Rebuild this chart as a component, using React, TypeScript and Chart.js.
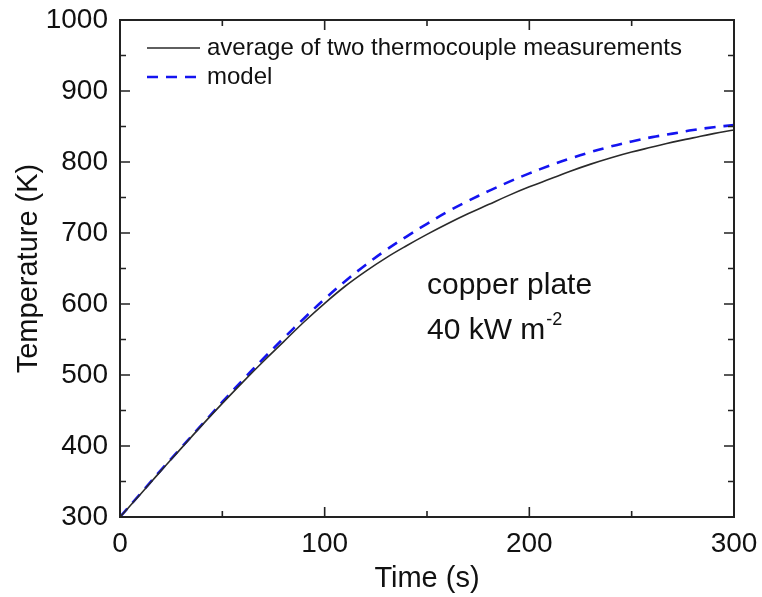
import React, { useEffect, useRef } from 'react';
import { Chart, registerables } from 'chart.js';

Chart.register(...registerables);

// ---- data ----
const TIME = [0, 10, 20, 30, 40, 50, 60, 70, 80, 90, 100, 110, 120, 130, 140, 150, 160, 170, 180, 190, 200, 210, 220, 230, 240, 250, 260, 270, 280, 290, 300];
const MEASURED = [300, 332, 365, 397, 429, 460, 490, 519, 547, 575, 601, 625, 646, 665, 682, 698, 713, 727, 740, 753, 765, 776, 787, 797, 806, 814, 821, 828, 834, 840, 845];
const MODEL = [300, 333, 366, 398, 430, 462, 493, 523, 552, 580, 607, 632, 655, 676, 695, 713, 730, 745, 759, 772, 784, 795, 805, 814, 822, 829, 835, 840, 845, 849, 852];
const X_TICKS = [0, 100, 200, 300];
const Y_TICKS = [300, 400, 500, 600, 700, 800, 900, 1000];
const LABEL_MEASURED = 'average of two thermocouple measurements';
const LABEL_MODEL = 'model';
const X_TITLE = 'Time (s)';
const Y_TITLE = 'Temperature (K)';
const NOTE_LINE1 = 'copper plate';
const NOTE_LINE2 = '40 kW m';
const NOTE_SUP = '-2';
const NOTE_AT_TIME = 150;
const NOTE_AT_TEMP = [614, 551];

const FONT = "'Liberation Sans', Arial, Helvetica, sans-serif";

const framePlugin = {
  id: 'frameTicks',
  afterDatasetsDraw(chart: any) {
    const { ctx, chartArea: a, scales } = chart;
    const xs = scales.x;
    const ys = scales.y;
    ctx.save();
    ctx.strokeStyle = '#222';
    ctx.lineWidth = 2;
    ctx.strokeRect(a.left, a.top, a.right - a.left, a.bottom - a.top);
    ctx.lineWidth = 1.6;
    for (let v = xs.min; v <= xs.max + 1e-9; v += 50) {
      const len = v % 100 === 0 ? 10 : 6;
      const px = xs.getPixelForValue(v);
      ctx.beginPath();
      ctx.moveTo(px, a.bottom);
      ctx.lineTo(px, a.bottom - len);
      ctx.moveTo(px, a.top);
      ctx.lineTo(px, a.top + len);
      ctx.stroke();
    }
    for (let v = ys.min; v <= ys.max + 1e-9; v += 50) {
      const len = v % 100 === 0 ? 10 : 6;
      const py = ys.getPixelForValue(v);
      ctx.beginPath();
      ctx.moveTo(a.left, py);
      ctx.lineTo(a.left + len, py);
      ctx.moveTo(a.right, py);
      ctx.lineTo(a.right - len, py);
      ctx.stroke();
    }

    // legend
    const ds = chart.data.datasets;
    const lx0 = a.left + 27;
    const lx1 = a.left + 80;
    const tx = a.left + 87;
    const rows = [a.top + 28, a.top + 57];
    ctx.font = `24px ${FONT}`;
    ctx.textBaseline = 'middle';
    ctx.textAlign = 'left';
    ds.forEach((d: any, i: number) => {
      const y = rows[i];
      ctx.beginPath();
      ctx.strokeStyle = d.borderColor;
      ctx.lineWidth = d.borderWidth;
      ctx.setLineDash(d.borderDash || []);
      ctx.moveTo(lx0, y);
      ctx.lineTo(lx1, y);
      ctx.stroke();
      ctx.setLineDash([]);
      ctx.fillStyle = '#111';
      ctx.fillText(d.label, tx, y);
    });

    // annotation
    const nx = xs.getPixelForValue(NOTE_AT_TIME);
    const ny1 = ys.getPixelForValue(NOTE_AT_TEMP[0]);
    const ny2 = ys.getPixelForValue(NOTE_AT_TEMP[1]);
    ctx.fillStyle = '#111';
    ctx.textBaseline = 'alphabetic';
    ctx.font = `30px ${FONT}`;
    ctx.fillText(NOTE_LINE1, nx, ny1);
    ctx.fillText(NOTE_LINE2, nx, ny2);
    const w = ctx.measureText(NOTE_LINE2).width;
    ctx.font = `18px ${FONT}`;
    ctx.fillText(NOTE_SUP, nx + w + 1, ny2 - 14);
    ctx.restore();
  },
};

export default function App() {
  const ref = useRef<HTMLCanvasElement | null>(null);
  useEffect(() => {
    const canvas = ref.current;
    if (!canvas) return;
    const chart = new Chart(canvas, {
      type: 'line',
      data: {
        datasets: [
          {
            label: LABEL_MEASURED,
            data: TIME.map((t, i) => ({ x: t, y: MEASURED[i] })),
            borderColor: '#2a2a2a',
            borderWidth: 1.6,
            pointRadius: 0,
            tension: 0.4,
            fill: false,
          },
          {
            label: LABEL_MODEL,
            data: TIME.map((t, i) => ({ x: t, y: MODEL[i] })),
            borderColor: '#1414f0',
            borderWidth: 2.6,
            borderDash: [11, 8],
            pointRadius: 0,
            tension: 0.4,
            fill: false,
          },
        ],
      },
      options: {
        responsive: false,
        animation: false,
        layout: { padding: { top: 20, right: 28, left: 0, bottom: 0 } },
        plugins: {
          legend: { display: false },
          tooltip: { enabled: false },
        },
        scales: {
          x: {
            type: 'linear',
            min: 0,
            max: 300,
            afterFit: (s: any) => { s.height = 80; s.paddingLeft = 0; s.paddingRight = 0; },
            afterBuildTicks: (s: any) => { s.ticks = X_TICKS.map((v) => ({ value: v })); },
            grid: { display: false, drawTicks: false },
            border: { display: false },
            ticks: { color: '#111', font: { family: FONT, size: 28 }, padding: 10, maxRotation: 0, autoSkip: false, callback: (v: any) => String(v) },
            title: { display: true, text: X_TITLE, color: '#111', font: { family: FONT, size: 29 }, padding: { top: 0, bottom: 1 } },
          },
          y: {
            type: 'linear',
            min: 300,
            max: 1000,
            afterFit: (s: any) => { s.width = 120; s.paddingTop = 0; s.paddingBottom = 0; },
            afterBuildTicks: (s: any) => { s.ticks = Y_TICKS.map((v) => ({ value: v })); },
            grid: { display: false, drawTicks: false },
            border: { display: false },
            ticks: { color: '#111', font: { family: FONT, size: 28 }, padding: 12, autoSkip: false, callback: (v: any) => String(v) },
            title: { display: true, text: Y_TITLE, color: '#111', font: { family: FONT, size: 29 }, padding: { top: 12, bottom: 0 } },
          },
        },
      },
      plugins: [framePlugin],
    });
    return () => chart.destroy();
  }, []);
  return (
    <div style={{ position: 'fixed', left: 0, top: 0, width: 762, height: 597, background: '#fff' }}>
      <canvas ref={ref} width={762} height={597} style={{ display: 'block' }} />
    </div>
  );
}
